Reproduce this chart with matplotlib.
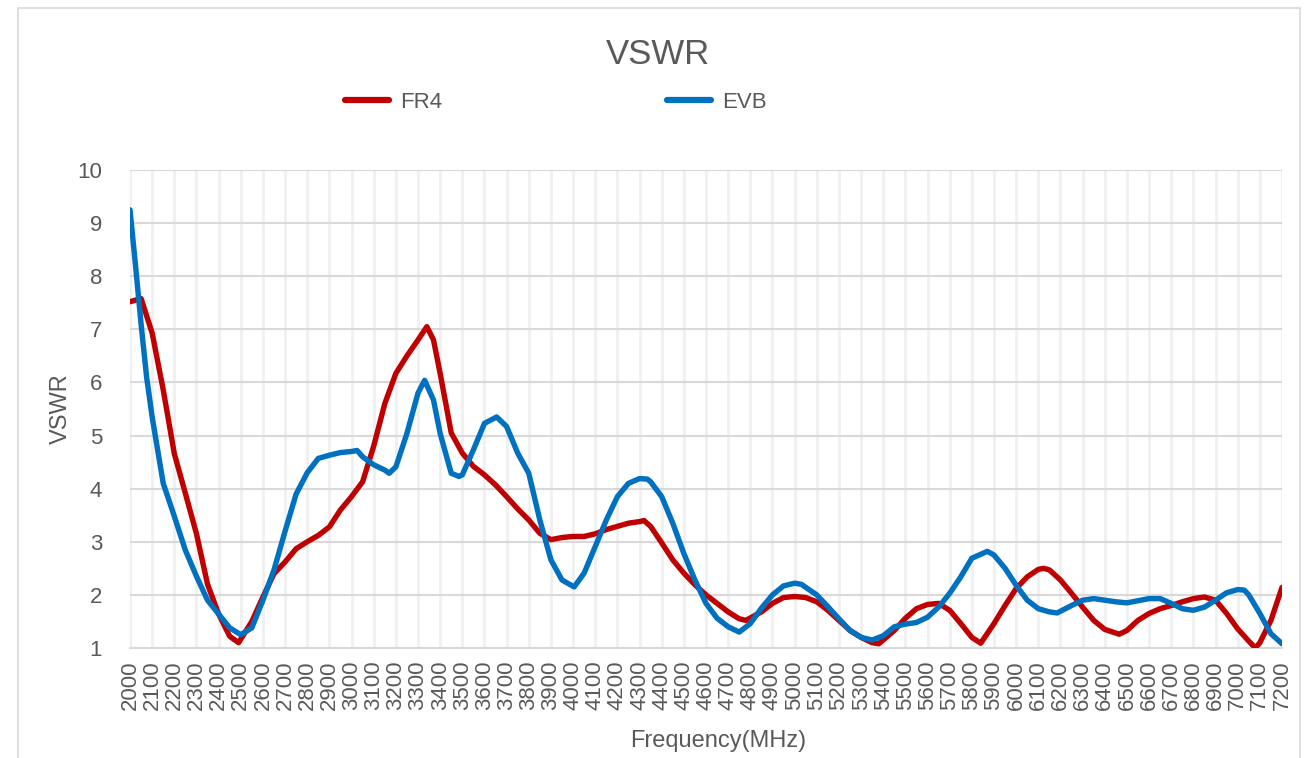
import matplotlib
matplotlib.use("Agg")
import matplotlib.pyplot as plt
from matplotlib.patches import Rectangle

plt.rcParams["font.family"] = ["Liberation Sans", "DejaVu Sans"]

# ── Data ──────────────────────────────────────────────────────────────────────
fr4_freq = [2000, 2050, 2100, 2150, 2200, 2250, 2300, 2350, 2400, 2450, 2490, 2550,
            2600, 2650, 2700, 2750, 2800, 2850, 2900, 2950, 3000, 3050, 3100, 3150,
            3200, 3250, 3300, 3340, 3370, 3400, 3430, 3450, 3500, 3550, 3600, 3650,
            3700, 3750, 3800, 3850, 3900, 3950, 4000, 4050, 4100, 4150, 4200, 4250,
            4300, 4320, 4350, 4400, 4450, 4500, 4550, 4600, 4650, 4700, 4750, 4780,
            4850, 4900, 4950, 5000, 5050, 5100, 5150, 5200, 5250, 5300, 5350, 5380,
            5450, 5500, 5550, 5600, 5650, 5700, 5750, 5800, 5840, 5900, 5950, 6000,
            6050, 6100, 6125, 6150, 6200, 6250, 6300, 6350, 6400, 6465, 6500, 6550,
            6600, 6650, 6700, 6750, 6800, 6850, 6900, 6950, 7000, 7050, 7080, 7100,
            7150, 7200]
fr4_vswr = [7.52, 7.58, 6.93, 5.86, 4.66, 3.91, 3.15, 2.2, 1.64, 1.22, 1.1, 1.5,
            1.96, 2.4, 2.62, 2.87, 3.0, 3.12, 3.28, 3.6, 3.85, 4.13, 4.8, 5.6,
            6.17, 6.5, 6.8, 7.05, 6.8, 6.17, 5.5, 5.05, 4.67, 4.42, 4.26, 4.07,
            3.85, 3.62, 3.41, 3.16, 3.04, 3.08, 3.1, 3.1, 3.15, 3.23, 3.29, 3.35,
            3.38, 3.4, 3.29, 2.98, 2.66, 2.41, 2.19, 2.0, 1.84, 1.68, 1.55, 1.52,
            1.68, 1.84, 1.95, 1.97, 1.95, 1.87, 1.71, 1.52, 1.33, 1.2, 1.1, 1.08,
            1.33, 1.56, 1.74, 1.82, 1.84, 1.71, 1.46, 1.2, 1.09, 1.46, 1.8, 2.12,
            2.34, 2.48, 2.5, 2.47, 2.28, 2.03, 1.77, 1.52, 1.35, 1.26, 1.33, 1.52,
            1.65, 1.74, 1.8, 1.87, 1.93, 1.96, 1.9, 1.65, 1.36, 1.13, 1.0, 1.1,
            1.52, 2.14]

evb_freq = [2000, 2025, 2050, 2075, 2100, 2150, 2200, 2250, 2300, 2350, 2400, 2450,
            2500, 2550, 2600, 2650, 2700, 2750, 2800, 2850, 2900, 2950, 3000, 3025,
            3050, 3100, 3150, 3170, 3200, 3250, 3300, 3330, 3370, 3400, 3450, 3485,
            3500, 3550, 3600, 3655, 3700, 3750, 3800, 3850, 3900, 3950, 4005, 4050,
            4100, 4150, 4200, 4250, 4300, 4335, 4350, 4400, 4450, 4500, 4550, 4600,
            4650, 4700, 4750, 4800, 4850, 4900, 4950, 5000, 5030, 5100, 5150, 5200,
            5250, 5300, 5350, 5400, 5450, 5500, 5550, 5600, 5650, 5700, 5750, 5800,
            5870, 5900, 5950, 6000, 6050, 6100, 6150, 6185, 6250, 6300, 6350, 6400,
            6450, 6500, 6550, 6600, 6650, 6700, 6750, 6800, 6850, 6900, 6950, 7000,
            7030, 7050, 7100, 7150, 7200]
evb_vswr = [9.25, 8.2, 7.1, 6.1, 5.35, 4.1, 3.48, 2.84, 2.35, 1.9, 1.64, 1.38,
            1.25, 1.38, 1.9, 2.47, 3.2, 3.9, 4.3, 4.57, 4.63, 4.68, 4.7, 4.72,
            4.6, 4.45, 4.35, 4.29, 4.41, 5.04, 5.8, 6.04, 5.67, 5.04, 4.29, 4.23,
            4.26, 4.73, 5.23, 5.35, 5.17, 4.67, 4.29, 3.41, 2.66, 2.28, 2.15, 2.41,
            2.91, 3.41, 3.85, 4.1, 4.19, 4.18, 4.13, 3.85, 3.35, 2.78, 2.28, 1.84,
            1.56, 1.4, 1.3, 1.46, 1.75, 2.0, 2.17, 2.22, 2.2, 2.0, 1.78, 1.55,
            1.33, 1.2, 1.15, 1.23, 1.4, 1.45, 1.48, 1.58, 1.77, 2.03, 2.34, 2.69,
            2.82, 2.75, 2.5, 2.18, 1.9, 1.74, 1.68, 1.66, 1.8, 1.9, 1.93, 1.9,
            1.87, 1.85, 1.89, 1.93, 1.93, 1.84, 1.74, 1.71, 1.77, 1.9, 2.04, 2.1,
            2.09, 2.0, 1.65, 1.27, 1.08]

x_ticks = list(range(2000, 7201, 100))
y_ticks = list(range(1, 11))

TXT = "#595959"

# ── Figure ────────────────────────────────────────────────────────────────────
fig = plt.figure(figsize=(13.1, 7.58), dpi=100)
ax = fig.add_axes([130/1310, 1-648/758, (1282-130)/1310, (648-170)/758])

ax.plot(fr4_freq, fr4_vswr, color="#C00000", lw=3.9, label="FR4",
        solid_capstyle="round", solid_joinstyle="round", zorder=3)
ax.plot(evb_freq, evb_vswr, color="#0070C0", lw=3.9, label="EVB",
        solid_capstyle="round", solid_joinstyle="round", zorder=4)

ax.set_xlim(2000, 7200); ax.set_ylim(1, 10)
ax.set_xticks(x_ticks)
ax.set_xticklabels([str(v) for v in x_ticks], rotation=90, fontsize=16, color=TXT)
ax.set_yticks(y_ticks)
ax.set_yticklabels([str(v) for v in y_ticks], fontsize=16, color=TXT)
ax.tick_params(axis="both", length=0)
ax.tick_params(axis="x", pad=9)
ax.tick_params(axis="y", pad=20)

ax.grid(axis="y", color="#D9D9D9", lw=1.5, zorder=0)
ax.grid(axis="x", color="#F0F0F0", lw=2.0, zorder=0)
for s in ["top", "right", "left"]:
    ax.spines[s].set_visible(False)
ax.spines["bottom"].set_color("#D9D9D9"); ax.spines["bottom"].set_linewidth(1.5)

ax.set_xlabel("Frequency(MHz)", fontsize=17, color=TXT)
ax.set_ylabel("VSWR", fontsize=17, color=TXT)
ax.xaxis.set_label_coords((718-130)/(1282-130), -(730-648)/(648-170))
ax.yaxis.set_label_coords(-(130-72)/(1282-130), 0.5)

fig.text(658/1310, 1-55/758, "VSWR", ha="center", va="center", fontsize=25, color=TXT)
leg = fig.legend(loc="center", bbox_to_anchor=(556/1310, 1-102/758), ncol=2,
                 frameon=False, fontsize=16, handlelength=2.0, columnspacing=10.1,
                 handletextpad=0.5, labelcolor=TXT)
for h in leg.legend_handles:
    h.set_linewidth(4.5)

fig.patches.append(Rectangle((18/1310, -0.02), (1300-18)/1310, 1-8/758+0.02,
                             transform=fig.transFigure, fill=False,
                             edgecolor="#D9D9D9", lw=1.2))

plt.savefig("out.png", dpi=100)
